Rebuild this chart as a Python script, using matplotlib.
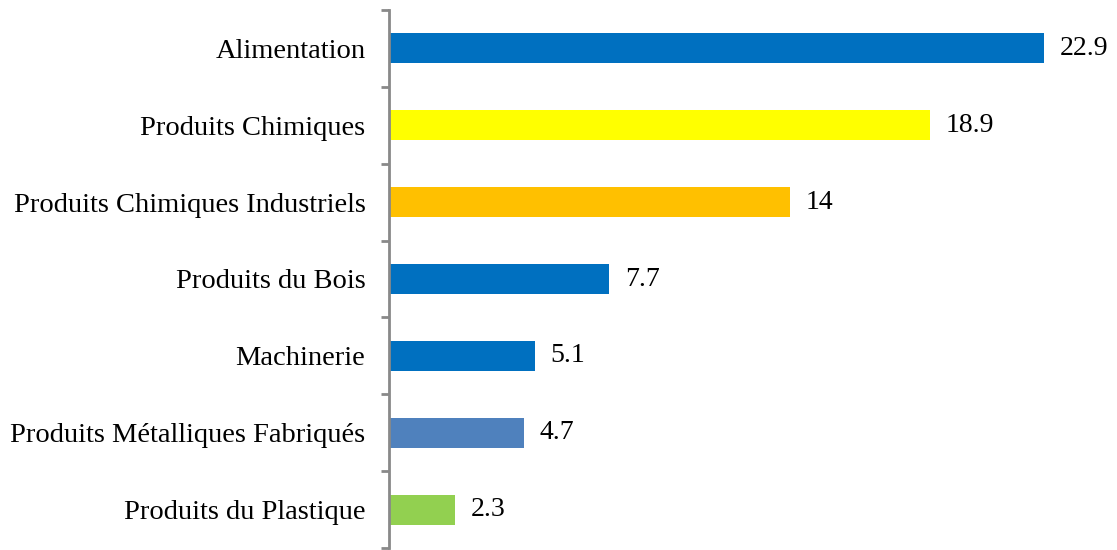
import matplotlib
matplotlib.use("Agg")
import matplotlib.pyplot as plt
import numpy as np

categories = ["Alimentation", "Produits Chimiques", "Produits Chimiques Industriels",
              "Produits du Bois", "Machinerie", "Produits Métalliques Fabriqués",
              "Produits du Plastique"]
values = [22.9, 18.9, 14, 7.7, 5.1, 4.7, 2.3]
value_labels = ["22.9", "18.9", "14", "7.7", "5.1", "4.7", "2.3"]
colors = ["#0070C0", "#FFFF00", "#FFC000", "#0070C0", "#0070C0", "#4F81BD", "#92D050"]

plt.rcParams['font.family'] = ['Liberation Serif', 'DejaVu Serif']

fig = plt.figure(figsize=(11.17, 5.5), dpi=100)
ax = fig.add_axes([389 / 1117, 1 - 548 / 550, (1100 - 389) / 1117, 538 / 550])

y = np.arange(len(categories))
ax.barh(y, values, height=0.39, color=colors)
ax.set_ylim(len(categories) - 0.5, -0.5)
ax.set_xlim(0, (1100 - 389) / 28.62)

for yi, v, lab in zip(y, values, value_labels):
    ax.text(v + 0.55, yi, lab, va='center', ha='left', fontsize=20)

ax.set_yticks(y)
ax.set_yticklabels(categories, fontsize=20.5)
ax.tick_params(axis='y', which='major', length=0, pad=17)
ax.set_yticks(np.arange(-0.5, len(categories)), minor=True)
ax.tick_params(axis='y', which='minor', length=6, width=2, color='#898989')
ax.set_xticks([])

for s in ['top', 'right', 'bottom']:
    ax.spines[s].set_visible(False)
ax.spines['left'].set_color('#898989')
ax.spines['left'].set_linewidth(2)

fig.savefig("out.png", dpi=100)
